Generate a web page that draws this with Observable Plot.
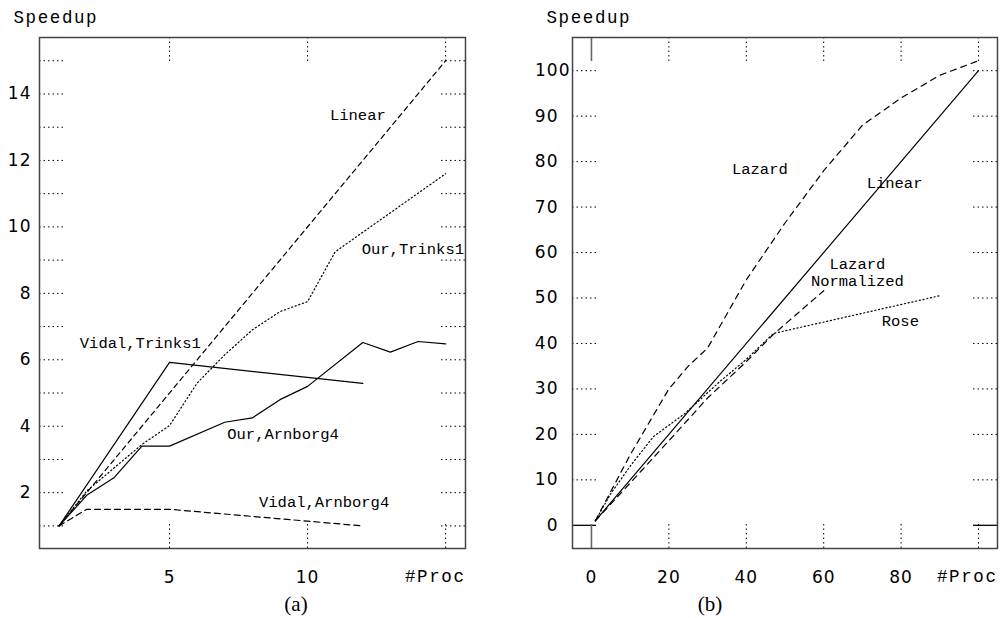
<!DOCTYPE html>
<html>
<head>
<meta charset="utf-8">
<script src="https://cdn.jsdelivr.net/npm/d3@7"></script>
<script src="https://cdn.jsdelivr.net/npm/@observablehq/plot@0.6"></script>
<style>
  html, body { margin: 0; padding: 0; background: #fff; }
  #wrap { position: relative; width: 1000px; height: 618px; background: #fff; overflow: hidden; }
  #left { position: absolute; left: 0; top: 0; }
  #right { position: absolute; left: 490px; top: 0; }
  .cap { position: absolute; font-family: "Liberation Serif", serif; font-size: 21px; color: #000; transform: translateX(-50%); }
  .mono text { font-family: "Liberation Mono", monospace; }
  [aria-label="y-axis tick label"] text, [aria-label="x-axis tick label"] text { letter-spacing: 1px; }
  .axlab text { letter-spacing: 1.6px; }
</style>
</head>
<body>
<div id="wrap">
  <div id="left"></div>
  <div id="right"></div>
  <div class="cap" style="left:296px; top:592px;">(a)</div>
  <div class="cap" style="left:710px; top:592px;">(b)</div>
</div>
<script>
// ---------- Panel (a) data ----------
const procLinearA = [1, 15];
const speedLinearA = [1, 15];
const procOurTrinks1 = [1, 2, 3, 4, 5, 6, 7, 8, 9, 10, 11, 15];
const speedOurTrinks1 = [1, 2.05, 2.75, 3.45, 4.02, 5.3, 6.15, 6.9, 7.45, 7.75, 9.25, 11.6];
const procVidalTrinks1 = [1, 5, 12];
const speedVidalTrinks1 = [1, 5.92, 5.29];
const procOurArnborg4 = [1, 2, 3, 4, 5, 7, 8, 9, 10, 12, 13, 14, 15];
const speedOurArnborg4 = [1, 1.92, 2.46, 3.4, 3.4, 4.12, 4.25, 4.8, 5.2, 6.52, 6.23, 6.55, 6.48];
const procVidalArnborg4 = [1, 2, 5, 12];
const speedVidalArnborg4 = [1, 1.5, 1.5, 1.0];

const yTicksA = [1, 2, 3, 4, 5, 6, 7, 8, 9, 10, 11, 12, 13, 14, 15];
const yTickLabelsA = [2, 4, 6, 8, 10, 12, 14];
const xTicksA = [5, 10, 15];
const xTickLabelsA = [5, 10];

const labelTextA = ["Linear", "Our,Trinks1", "Vidal,Trinks1", "Our,Arnborg4", "Vidal,Arnborg4"];
const labelXA = [10.81, 11.96, 1.75, 7.09, 8.24];
const labelYA = [13.36, 9.32, 6.51, 3.77, 1.71];

// ---------- Panel (b) data ----------
const procLinearB = [1, 100];
const speedLinearB = [1, 100];
const procLazard = [1, 10, 20, 25, 30, 40, 50, 60, 70, 80, 90, 100];
const speedLazard = [1, 15.5, 30, 35, 39, 54, 66.5, 78, 88, 94, 99, 102.2];
const procLazardNorm = [1, 10, 20, 30, 40, 47, 60];
const speedLazardNorm = [1, 9.3, 18.6, 28, 36, 42, 51.6];
const procRose = [1, 5, 10, 16, 24, 33, 40, 47, 90];
const speedRose = [1, 7, 13, 19.5, 24.5, 31.5, 36.5, 42.2, 50.5];

const yTicksB = [10, 20, 30, 40, 50, 60, 70, 80, 90, 100];
const yZeroB = [0];
const yTickLabelsB = [0, 10, 20, 30, 40, 50, 60, 70, 80, 90];
const yTickLabelsB2 = [100];
const xTicksB = [20, 40, 60, 80, 100];
const xZeroB = [0];
const xTickLabelsB = [0, 20, 40, 60, 80];

const labelTextB = ["Lazard", "Linear", "Lazard\nNormalized", "Rose"];
const labelXB = [43.5, 78.3, 68.7, 79.8];
const labelYB = [78.6, 75.5, 55.8, 45.1];
const labelAnchorB = ["start", "start", "middle", "start"];

// ---------- helpers ----------
const TICK = 24;
const dotted = "1.5,3";
const mono = "Liberation Mono, Courier New, monospace";
const sans = "DejaVu Sans, sans-serif";

function tickMarks(yTicks, xTicks, FW, FH, opts) {
  const o = Object.assign({stroke: "#000", strokeWidth: 1, strokeDasharray: dotted}, opts || {});
  return [
    Plot.tickY(yTicks, {y: d => d, insetRight: FW - TICK, ...o}),
    Plot.tickY(yTicks, {y: d => d, insetLeft: FW - TICK, ...o}),
    Plot.tickX(xTicks, {x: d => d, insetBottom: FH - TICK, ...o}),
    Plot.tickX(xTicks, {x: d => d, insetTop: FH - TICK, ...o})
  ];
}

function cornerTexts() {
  return [
    Plot.text(["Speedup"], {text: d => d, frameAnchor: "top-left", textAnchor: "start", lineAnchor: "middle",
      dx: -26, dy: -20, fontSize: 17.5, fontFamily: mono, className: "axlab"}),
    Plot.text(["#Proc"], {text: d => d, frameAnchor: "bottom-right", textAnchor: "end", lineAnchor: "top",
      dx: 0, dy: 21, fontSize: 17.5, fontFamily: mono, className: "axlab"})
  ];
}

// ---------- Panel (a) ----------
{
  const W = 480, H = 590, ml = 39, mr = 15, mt = 37, mb = 42;
  const FW = W - ml - mr, FH = H - mt - mb;
  const chart = Plot.plot({
    width: W, height: H, marginLeft: ml, marginRight: mr, marginTop: mt, marginBottom: mb,
    x: {domain: [0.29, 15.72]},
    y: {domain: [0.32, 15.7]},
    style: {background: "#fff", color: "#000", fontFamily: sans},
    marks: [
      ...tickMarks(yTicksA, xTicksA, FW, FH),
      Plot.axisY(yTickLabelsA, {anchor: "left", tickSize: 0, tickPadding: 8, fontSize: 17, label: null, fontFamily: sans}),
      Plot.axisX(xTickLabelsA, {anchor: "bottom", tickSize: 0, tickPadding: 22, fontSize: 17, label: null, fontFamily: sans}),
      Plot.line(speedLinearA, {x: procLinearA, y: speedLinearA, stroke: "#000", strokeWidth: 1.2, strokeDasharray: "5,4"}),
      Plot.line(speedOurTrinks1, {x: procOurTrinks1, y: speedOurTrinks1, stroke: "#000", strokeWidth: 1.2, strokeDasharray: "1.2,2.6"}),
      Plot.line(speedVidalTrinks1, {x: procVidalTrinks1, y: speedVidalTrinks1, stroke: "#000", strokeWidth: 1.2}),
      Plot.line(speedOurArnborg4, {x: procOurArnborg4, y: speedOurArnborg4, stroke: "#000", strokeWidth: 1.2}),
      Plot.line(speedVidalArnborg4, {x: procVidalArnborg4, y: speedVidalArnborg4, stroke: "#000", strokeWidth: 1.2, strokeDasharray: "6,4"}),
      Plot.text(labelTextA, {x: labelXA, y: labelYA, text: d => d, textAnchor: "start", lineAnchor: "middle",
        fontSize: 15.5, fontFamily: mono, fill: "#000"}),
      Plot.frame({stroke: "#444", strokeWidth: 1.5}),
      ...cornerTexts()
    ]
  });
  document.getElementById("left").appendChild(chart);
}

// ---------- Panel (b) ----------
{
  const W = 510, H = 590, ml = 82, mr = 3, mt = 37, mb = 42;
  const FW = W - ml - mr, FH = H - mt - mb;
  const chart = Plot.plot({
    width: W, height: H, marginLeft: ml, marginRight: mr, marginTop: mt, marginBottom: mb,
    x: {domain: [-4.9, 104.9]},
    y: {domain: [-5.1, 107.3]},
    style: {background: "#fff", color: "#000", fontFamily: sans},
    marks: [
      ...tickMarks(yTicksB, xTicksB, FW, FH),
      Plot.tickY(yZeroB, {y: d => d, insetRight: FW - TICK, stroke: "#000", strokeWidth: 1.3}),
      Plot.tickY(yZeroB, {y: d => d, insetLeft: FW - TICK, stroke: "#000", strokeWidth: 1.3}),
      Plot.tickX(xZeroB, {x: d => d, insetBottom: FH - TICK, stroke: "#666", strokeWidth: 1.6}),
      Plot.tickX(xZeroB, {x: d => d, insetTop: FH - TICK, stroke: "#666", strokeWidth: 1.6}),
      Plot.axisY(yTickLabelsB, {anchor: "left", tickSize: 0, tickPadding: 14, fontSize: 17, label: null, fontFamily: sans}),
      Plot.axisY(yTickLabelsB2, {anchor: "left", tickSize: 0, tickPadding: 2, fontSize: 17, label: null, fontFamily: sans}),
      Plot.axisX(xTickLabelsB, {anchor: "bottom", tickSize: 0, tickPadding: 22, fontSize: 17, label: null, fontFamily: sans}),
      Plot.line(speedLinearB, {x: procLinearB, y: speedLinearB, stroke: "#000", strokeWidth: 1.2}),
      Plot.line(speedLazard, {x: procLazard, y: speedLazard, stroke: "#000", strokeWidth: 1.2, strokeDasharray: "6,5"}),
      Plot.line(speedLazardNorm, {x: procLazardNorm, y: speedLazardNorm, stroke: "#000", strokeWidth: 1.2, strokeDasharray: "6,5"}),
      Plot.line(speedRose, {x: procRose, y: speedRose, stroke: "#000", strokeWidth: 1.2, strokeDasharray: "1.2,2.6"}),
      Plot.text(labelTextB, {x: labelXB, y: labelYB, text: d => d, textAnchor: (d, i) => labelAnchorB[i], lineAnchor: "middle",
        lineHeight: 1.12, fontSize: 15.5, fontFamily: mono, fill: "#000"}),
      Plot.frame({stroke: "#444", strokeWidth: 1.5}),
      ...cornerTexts()
    ]
  });
  document.getElementById("right").appendChild(chart);
}
</script>
</body>
</html>
